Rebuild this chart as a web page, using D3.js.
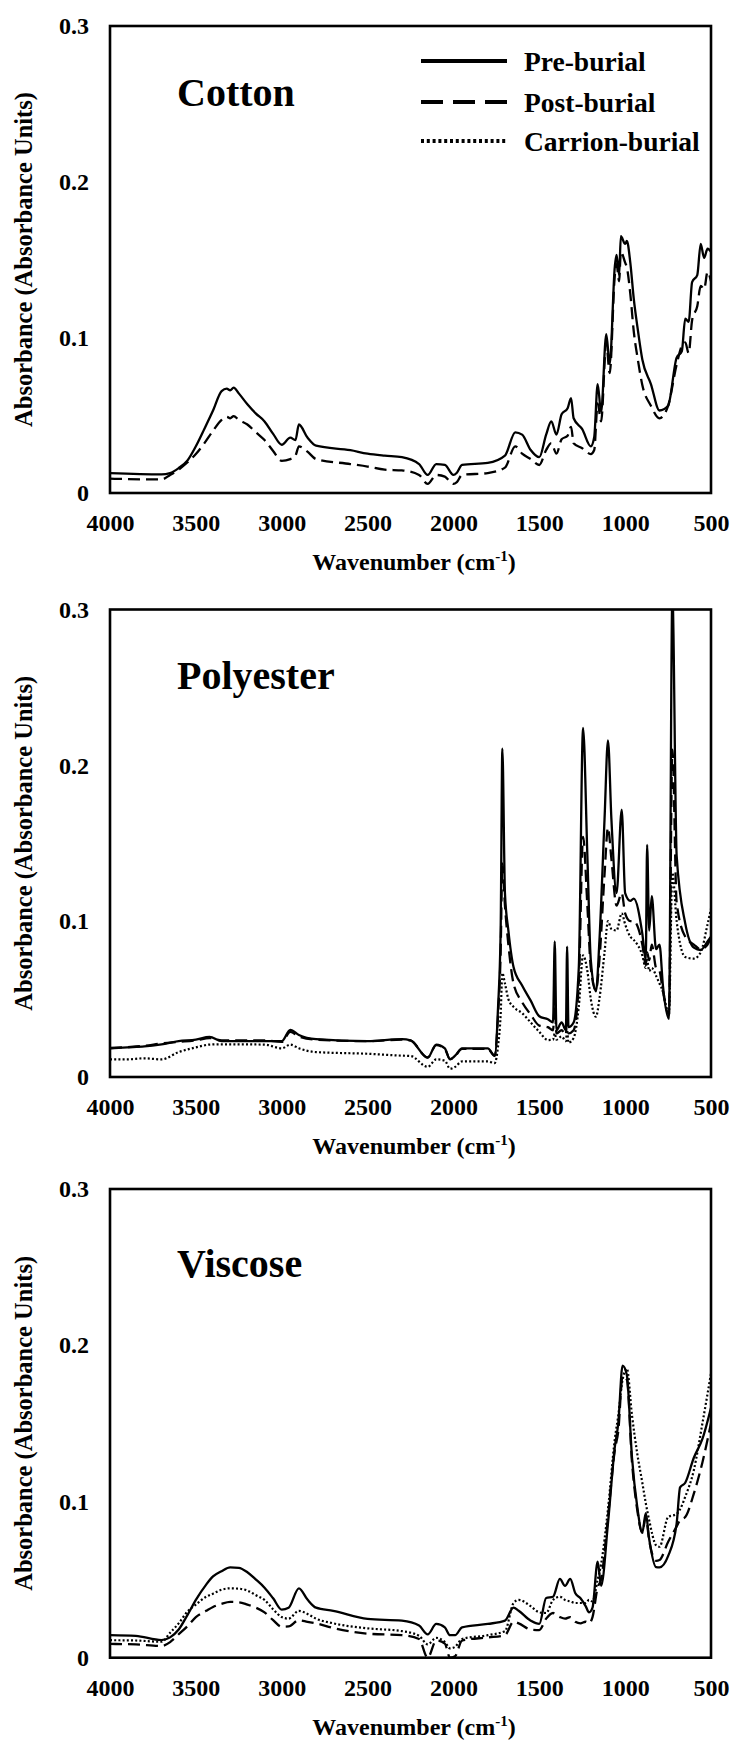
<!DOCTYPE html>
<html>
<head>
<meta charset="utf-8">
<script src="https://cdn.jsdelivr.net/npm/d3@7"></script>
<style>
  html, body { margin: 0; padding: 0; background: #fff; }
  svg { display: block; }
  text { font-family: "Liberation Serif", "Times New Roman", serif; font-weight: bold; fill: #000; }
</style>
</head>
<body>
<svg id="chart" width="734" height="1741"></svg>
<script>
// ---------------- DATA ----------------
const xTicks = [4000, 3500, 3000, 2500, 2000, 1500, 1000, 500];
const yTicks = [0, 0.1, 0.2, 0.3];
const seriesNames = ["Pre-burial", "Post-burial", "Carrion-burial"];
const panelTitles = ["Cotton", "Polyester", "Viscose"];

// Cotton
const cottonW = [4000, 3700, 3650, 3600, 3550, 3500, 3450, 3400, 3350, 3320, 3300, 3280, 3250, 3200, 3150, 3100, 3050, 3000, 2950, 2920, 2900, 2850, 2800, 2600, 2500, 2400, 2300, 2200, 2150, 2100, 2050, 2000, 1980, 1950, 1800, 1700, 1640, 1600, 1550, 1500, 1460, 1430, 1400, 1370, 1335, 1315, 1300, 1250, 1200, 1180, 1160, 1140, 1110, 1090, 1060, 1050, 1035, 1025, 1000, 990, 970, 950, 925, 900, 850, 800, 750, 700, 670, 650, 630, 610, 580, 560, 540, 520, 500];
const cottonPre = [0.0128, 0.0120, 0.0128, 0.016, 0.0207, 0.030, 0.0413, 0.053, 0.0655, 0.067, 0.066, 0.0677, 0.064, 0.057, 0.051, 0.046, 0.038, 0.031, 0.0356, 0.034, 0.044, 0.0356, 0.0304, 0.0275, 0.0253, 0.024, 0.023, 0.0186, 0.0116, 0.0186, 0.018, 0.0116, 0.013, 0.018, 0.0193, 0.024, 0.039, 0.0375, 0.0276, 0.023, 0.0375, 0.046, 0.0375, 0.0506, 0.0545, 0.061, 0.048, 0.041, 0.030, 0.036, 0.070, 0.052, 0.102, 0.083, 0.1456, 0.153, 0.140, 0.165, 0.160, 0.162, 0.148, 0.125, 0.104, 0.0858, 0.070, 0.053, 0.056, 0.087, 0.091, 0.112, 0.110, 0.1355, 0.140, 0.160, 0.151, 0.157, 0.155];
const cottonPost = [0.0092, 0.0087, 0.0116, 0.015, 0.0196, 0.025, 0.032, 0.040, 0.047, 0.049, 0.048, 0.0494, 0.047, 0.044, 0.039, 0.034, 0.027, 0.0207, 0.0218, 0.024, 0.030, 0.0266, 0.0218, 0.0186, 0.017, 0.015, 0.0145, 0.0116, 0.0058, 0.0116, 0.0105, 0.0058, 0.007, 0.0116, 0.0128, 0.0163, 0.030, 0.0253, 0.0218, 0.018, 0.0276, 0.032, 0.0253, 0.0345, 0.0368, 0.0425, 0.032, 0.0288, 0.025, 0.0276, 0.0575, 0.046, 0.0963, 0.077, 0.140, 0.147, 0.136, 0.155, 0.148, 0.145, 0.128, 0.104, 0.085, 0.0694, 0.056, 0.048, 0.056, 0.0825, 0.0946, 0.0968, 0.0898, 0.111, 0.120, 0.133, 0.131, 0.142, 0.136];

// Polyester
const polyW = [4000, 3900, 3800, 3700, 3600, 3500, 3420, 3350, 3100, 3000, 2950, 2900, 2800, 2500, 2300, 2250, 2150, 2100, 2050, 2020, 1990, 1950, 1800, 1760, 1740, 1725, 1715, 1700, 1680, 1650, 1600, 1550, 1500, 1450, 1420, 1410, 1400, 1370, 1345, 1338, 1330, 1300, 1270, 1245, 1220, 1200, 1170, 1150, 1120, 1100, 1080, 1050, 1020, 1000, 970, 950, 900, 880, 872, 860, 845, 820, 800, 780, 745, 725, 700, 650, 600, 560, 520, 500];
const polyPre = [0.0184, 0.019, 0.0196, 0.021, 0.023, 0.024, 0.0257, 0.023, 0.023, 0.023, 0.0303, 0.027, 0.0243, 0.023, 0.0243, 0.0235, 0.0124, 0.0208, 0.0184, 0.0113, 0.0137, 0.0184, 0.0184, 0.0137, 0.045, 0.094, 0.2107, 0.118, 0.094, 0.0706, 0.0587, 0.049, 0.039, 0.037, 0.035, 0.087, 0.030, 0.035, 0.030, 0.0837, 0.032, 0.035, 0.070, 0.224, 0.142, 0.075, 0.055, 0.087, 0.1655, 0.216, 0.1655, 0.118, 0.1715, 0.118, 0.113, 0.1145, 0.092, 0.075, 0.149, 0.094, 0.116, 0.082, 0.085, 0.0587, 0.0374, 0.31, 0.142, 0.0986, 0.083, 0.0815, 0.087, 0.090];
const polyPost = [0.0186, 0.0192, 0.020, 0.0215, 0.0225, 0.0235, 0.025, 0.0235, 0.0235, 0.0225, 0.029, 0.026, 0.024, 0.023, 0.024, 0.0235, 0.0125, 0.0205, 0.018, 0.0115, 0.0135, 0.018, 0.018, 0.0135, 0.040, 0.080, 0.137, 0.110, 0.085, 0.060, 0.048, 0.040, 0.033, 0.032, 0.030, 0.045, 0.028, 0.030, 0.027, 0.040, 0.028, 0.030, 0.060, 0.154, 0.110, 0.070, 0.0558, 0.075, 0.130, 0.160, 0.140, 0.110, 0.118, 0.105, 0.100, 0.100, 0.085, 0.072, 0.080, 0.075, 0.085, 0.070, 0.068, 0.055, 0.040, 0.210, 0.112, 0.090, 0.085, 0.082, 0.085, 0.090];
const polyCarrion = [0.0113, 0.0113, 0.012, 0.0113, 0.016, 0.019, 0.0208, 0.021, 0.0208, 0.0184, 0.0208, 0.0184, 0.016, 0.0149, 0.0137, 0.0135, 0.0065, 0.0113, 0.0105, 0.0053, 0.0065, 0.010, 0.010, 0.0089, 0.020, 0.040, 0.0667, 0.060, 0.050, 0.045, 0.041, 0.035, 0.029, 0.0237, 0.024, 0.028, 0.024, 0.026, 0.023, 0.030, 0.022, 0.025, 0.045, 0.078, 0.068, 0.050, 0.0387, 0.050, 0.080, 0.100, 0.095, 0.094, 0.105, 0.098, 0.090, 0.088, 0.078, 0.070, 0.075, 0.068, 0.070, 0.065, 0.060, 0.055, 0.040, 0.131, 0.100, 0.077, 0.076, 0.080, 0.098, 0.108];

// Viscose
const viscW = [4000, 3850, 3700, 3650, 3600, 3550, 3500, 3440, 3400, 3350, 3300, 3250, 3200, 3150, 3100, 3050, 3000, 2960, 2900, 2850, 2800, 2700, 2500, 2300, 2200, 2150, 2100, 2050, 2020, 1990, 1950, 1800, 1700, 1650, 1620, 1550, 1500, 1460, 1420, 1380, 1350, 1320, 1290, 1260, 1230, 1210, 1190, 1160, 1140, 1100, 1060, 1040, 1015, 990, 960, 930, 900, 880, 860, 820, 800, 750, 700, 680, 650, 600, 550, 500];
const viscPre = [0.0145, 0.014, 0.0113, 0.013, 0.018, 0.0271, 0.037, 0.0468, 0.052, 0.0554, 0.0578, 0.0575, 0.0547, 0.050, 0.0448, 0.038, 0.0308, 0.032, 0.0444, 0.0372, 0.032, 0.030, 0.0248, 0.0237, 0.0206, 0.0149, 0.0216, 0.0194, 0.0144, 0.0144, 0.0194, 0.0216, 0.0237, 0.032, 0.030, 0.0237, 0.0216, 0.0382, 0.039, 0.0504, 0.046, 0.0504, 0.0412, 0.038, 0.033, 0.029, 0.032, 0.0615, 0.046, 0.086, 0.135, 0.150, 0.187, 0.181, 0.128, 0.097, 0.080, 0.0925, 0.076, 0.058, 0.0578, 0.065, 0.086, 0.109, 0.112, 0.128, 0.140, 0.160];
const viscPost = [0.0088, 0.0085, 0.0075, 0.010, 0.015, 0.020, 0.026, 0.030, 0.0325, 0.0345, 0.0357, 0.0355, 0.034, 0.032, 0.029, 0.024, 0.0198, 0.020, 0.024, 0.023, 0.022, 0.019, 0.0154, 0.0144, 0.012, 0.000, 0.011, 0.009, 0.000, 0.001, 0.011, 0.013, 0.0144, 0.023, 0.022, 0.018, 0.0177, 0.025, 0.0286, 0.026, 0.025, 0.026, 0.023, 0.022, 0.023, 0.022, 0.026, 0.045, 0.050, 0.090, 0.133, 0.145, 0.180, 0.178, 0.125, 0.095, 0.080, 0.090, 0.075, 0.062, 0.0625, 0.074, 0.084, 0.088, 0.090, 0.105, 0.125, 0.150];
const viscCarrion = [0.0112, 0.011, 0.0102, 0.016, 0.022, 0.0294, 0.034, 0.039, 0.041, 0.0435, 0.0444, 0.0442, 0.043, 0.040, 0.037, 0.031, 0.026, 0.025, 0.030, 0.028, 0.025, 0.022, 0.0188, 0.017, 0.014, 0.0085, 0.0127, 0.010, 0.006, 0.007, 0.012, 0.0144, 0.017, 0.035, 0.037, 0.033, 0.029, 0.0286, 0.037, 0.039, 0.037, 0.036, 0.035, 0.035, 0.035, 0.037, 0.036, 0.050, 0.060, 0.095, 0.140, 0.155, 0.178, 0.185, 0.155, 0.131, 0.112, 0.099, 0.088, 0.072, 0.071, 0.090, 0.092, 0.095, 0.103, 0.120, 0.150, 0.182];

// ---------------- LAYOUT / STYLE ----------------
const svg = d3.select("#chart");
const X0 = 110, X1 = 711;
const styles = [
  { dash: null, width: 2.3, legendDash: null, legendWidth: 4 },
  { dash: "12,6", width: 2.3, legendDash: "22,10", legendWidth: 4 },
  { dash: "2,2.2", width: 2.2, legendDash: "3,2.8", legendWidth: 4 }
];

const panels = [
  { title: panelTitles[0], top: 26, bottom: 493, titleDy: 79.5, w: cottonW, series: [cottonPre, cottonPost, null], legend: true },
  { title: panelTitles[1], top: 609.5, bottom: 1077, titleDy: 79.5, w: polyW, series: [polyPre, polyPost, polyCarrion], legend: false },
  { title: panelTitles[2], top: 1189, bottom: 1657.7, titleDy: 88, w: viscW, series: [viscPre, viscPost, viscCarrion], legend: false }
];

const x = d3.scaleLinear().domain([4000, 500]).range([X0, X1]);
const fmtY = d => d === 0 ? "0" : d3.format(".1f")(d);

panels.forEach((p, i) => {
  const y = d3.scaleLinear().domain([0, 0.3]).range([p.bottom, p.top]);
  const g = svg.append("g");

  const clipId = "clip" + i;
  svg.append("clipPath").attr("id", clipId)
    .append("rect").attr("x", X0).attr("y", p.top).attr("width", X1 - X0).attr("height", p.bottom - p.top);

  // series
  const line = d3.line().x(d => x(d[0])).y(d => y(d[1])).curve(d3.curveMonotoneX);
  const lg = g.append("g").attr("clip-path", `url(#${clipId})`);
  p.series.forEach((vals, si) => {
    if (!vals) return;
    const pts = p.w.map((w, k) => [w, vals[k]]);
    lg.append("path")
      .attr("d", line(pts))
      .attr("fill", "none")
      .attr("stroke", "#000")
      .attr("stroke-width", styles[si].width)
      .attr("stroke-linejoin", "round")
      .attr("stroke-dasharray", styles[si].dash);
  });

  // frame
  g.append("rect")
    .attr("x", X0).attr("y", p.top)
    .attr("width", X1 - X0).attr("height", p.bottom - p.top)
    .attr("fill", "none").attr("stroke", "#000").attr("stroke-width", 2.6);

  // x axis
  const xa = g.append("g").attr("transform", `translate(0,${p.bottom})`)
    .call(d3.axisBottom(x).tickValues(xTicks).tickSize(0).tickPadding(21).tickFormat(d3.format("d")));
  xa.select(".domain").remove();
  xa.selectAll("text").style("font-size", "24px");

  // y axis
  const ya = g.append("g").attr("transform", `translate(${X0},0)`)
    .call(d3.axisLeft(y).tickValues(yTicks).tickSize(0).tickPadding(21).tickFormat(fmtY));
  ya.select(".domain").remove();
  ya.selectAll("text").style("font-size", "24px");

  // axis titles
  const xt = g.append("text")
    .attr("x", 414).attr("y", p.bottom + 77)
    .attr("text-anchor", "middle")
    .style("font-size", "24px");
  xt.append("tspan").text("Wavenumber (cm");
  xt.append("tspan").attr("dy", -9).style("font-size", "15px").text("-1");
  xt.append("tspan").attr("dy", 9).text(")");

  g.append("text")
    .attr("transform", `translate(32,${(p.top + p.bottom) / 2}) rotate(-90)`)
    .attr("text-anchor", "middle")
    .style("font-size", "24.5px")
    .text("Absorbance (Absorbance Units)");

  // panel title
  g.append("text")
    .attr("x", 177).attr("y", p.top + p.titleDy)
    .style("font-size", "40px")
    .text(p.title);

  // legend
  if (p.legend) {
    const ly = [61, 102, 141];
    seriesNames.forEach((name, si) => {
      g.append("line")
        .attr("x1", 421).attr("x2", 507)
        .attr("y1", ly[si]).attr("y2", ly[si])
        .attr("stroke", "#000")
        .attr("stroke-width", styles[si].legendWidth)
        .attr("stroke-dasharray", styles[si].legendDash);
      g.append("text")
        .attr("x", 524).attr("y", ly[si] + 9.5)
        .style("font-size", "27.5px")
        .text(name);
    });
  }
});
</script>
</body>
</html>
